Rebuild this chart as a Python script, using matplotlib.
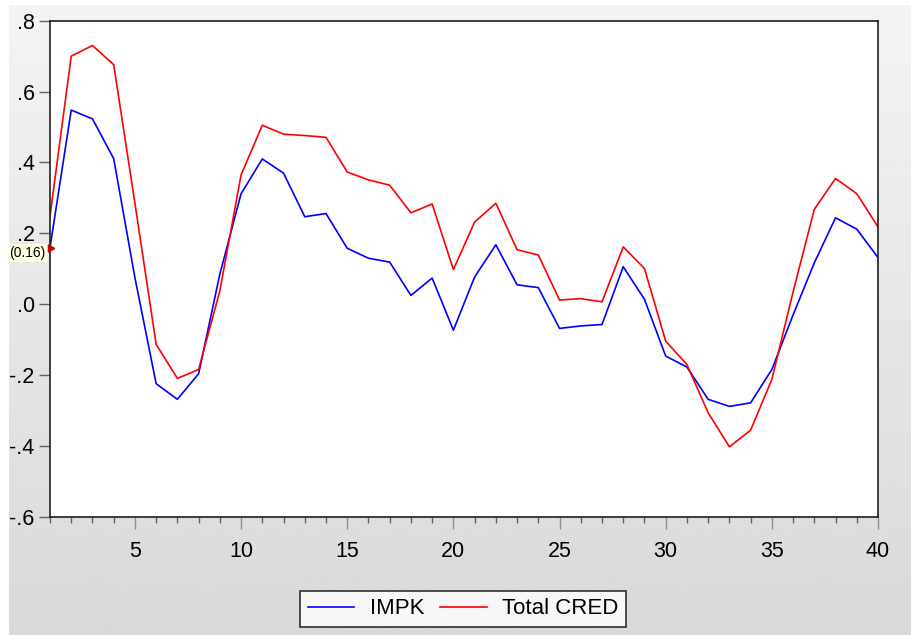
import matplotlib.pyplot as plt
import numpy as np
from matplotlib.ticker import FuncFormatter, MultipleLocator

plt.rcParams['font.family'] = ['Liberation Sans', 'DejaVu Sans']

# Response horizon (periods)
periods = np.arange(1, 41)

# Impulse responses
impk = [0.160, 0.548, 0.523, 0.411, 0.075, -0.224, -0.268, -0.196, 0.085, 0.312,
        0.410, 0.370, 0.247, 0.256, 0.158, 0.130, 0.119, 0.025, 0.074, -0.073,
        0.077, 0.168, 0.055, 0.047, -0.068, -0.061, -0.057, 0.106, 0.014, -0.146,
        -0.177, -0.268, -0.288, -0.278, -0.184, -0.030, 0.117, 0.244, 0.212, 0.132]
total_cred = [0.249, 0.700, 0.730, 0.676, 0.285, -0.113, -0.209, -0.184, 0.038, 0.365,
              0.505, 0.480, 0.476, 0.471, 0.373, 0.351, 0.336, 0.258, 0.283, 0.098,
              0.232, 0.285, 0.154, 0.139, 0.012, 0.016, 0.007, 0.162, 0.101, -0.104,
              -0.170, -0.306, -0.402, -0.355, -0.212, 0.035, 0.268, 0.355, 0.312, 0.218]

y_ticks = [-0.6, -0.4, -0.2, 0.0, 0.2, 0.4, 0.6, 0.8]
cursor_value = 0.16

fig = plt.figure(figsize=(9.12, 6.35), dpi=100)
fig.patch.set_facecolor('white')

# grey gradient panel behind everything (EViews look)
bg = fig.add_axes([9 / 912, 0, 1 - 9 / 912, 1 - 5 / 635], zorder=-10)
grad = np.linspace(0.955, 0.85, 256).reshape(-1, 1)
bg.imshow(grad, aspect='auto', cmap='gray', vmin=0, vmax=1, extent=[0, 1, 0, 1])
bg.axis('off')

ax = fig.add_axes([50 / 912, 1 - 517 / 635, (878 - 50) / 912, (517 - 20.7) / 635])
ax.set_facecolor('white')

ax.plot(periods, impk, color='#0000ff', lw=1.2, label='IMPK')
ax.plot(periods, total_cred, color='#ff0000', lw=1.2, label='Total CRED')

ax.set_xlim(1, 40)
ax.set_ylim(-0.6, 0.8)
ax.set_yticks(y_ticks)
ax.yaxis.set_major_formatter(FuncFormatter(lambda v, p: f"{v:.1f}".replace("0.", ".")))
ax.xaxis.set_major_locator(MultipleLocator(5))
ax.xaxis.set_minor_locator(MultipleLocator(1))

ax.tick_params(axis='y', direction='out', length=8, width=1, color='#606060',
               labelsize=15.5, pad=3)
ax.tick_params(axis='x', which='major', direction='out', length=8.5, width=1,
               color='#909090', labelsize=15.5, pad=9)
ax.tick_params(axis='x', which='minor', direction='out', length=4, width=1,
               color='#606060')
for s in ax.spines.values():
    s.set_color('#202020')
    s.set_linewidth(1.2)

# data cursor tag on the left edge
ax.annotate(f"({cursor_value:.2f})", xy=(1, cursor_value), xycoords='data',
            xytext=(-3, -4), textcoords='offset points', ha='right', va='center',
            fontsize=10, annotation_clip=False, zorder=20,
            bbox=dict(boxstyle='square,pad=0.12', fc='#ffffe6', ec='none'))
ax.plot([1], [cursor_value], marker=(3, 0, 30), color='#c00000', markersize=6,
        clip_on=False, zorder=21)

leg = fig.legend(loc='center', bbox_to_anchor=(463 / 912, 1 - 609 / 635), ncol=2,
                 fontsize=16, frameon=True, fancybox=False, edgecolor='black',
                 handlelength=2.1, columnspacing=0.7, handletextpad=0.7,
                 borderpad=0.35)
leg.get_frame().set_linewidth(1.2)
leg.get_frame().set_facecolor('white')

fig.savefig('out.png', dpi=100)
